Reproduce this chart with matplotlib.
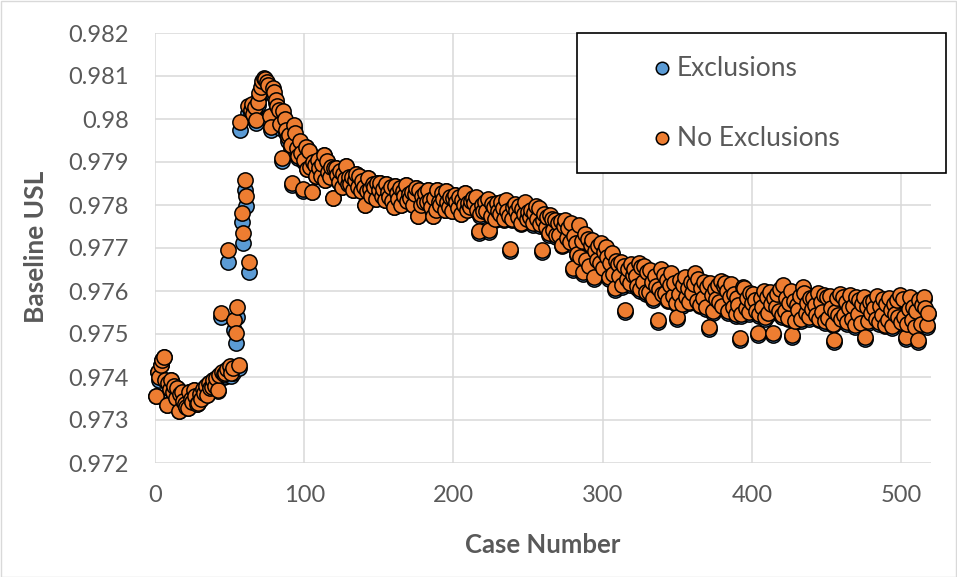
import numpy as np
import matplotlib.pyplot as plt
from matplotlib.patches import Rectangle
from matplotlib.lines import Line2D

# Baseline USL per case (case numbers start at 1)
usl_no_excl = [
    0.97355, 0.97412, 0.97400, 0.97428, 0.97440, 0.97447, 0.97392, 0.97335, 0.97385, 0.97372,
    0.97392, 0.97365, 0.97380, 0.97352, 0.97375, 0.97320, 0.97360, 0.97365, 0.97345, 0.97338,
    0.97330, 0.97328, 0.97365, 0.97350, 0.97342, 0.97370, 0.97355, 0.97338, 0.97340, 0.97360,
    0.97348, 0.97372, 0.97362, 0.97380, 0.97358, 0.97385, 0.97375, 0.97377, 0.97392, 0.97380,
    0.97398, 0.97370, 0.97405, 0.97548, 0.97412, 0.97408, 0.97410, 0.97418, 0.97695, 0.97425,
    0.97410, 0.97420, 0.97533, 0.97502, 0.97563, 0.97428, 0.97992, 0.97782, 0.97735, 0.97858,
    0.97820, 0.98030, 0.97668, 0.98022, 0.98035, 0.98012, 0.98028, 0.97998, 0.98040, 0.98060,
    0.98075, 0.98088, 0.98095, 0.98092, 0.98085, 0.98080, 0.98008, 0.97982, 0.98072, 0.98062,
    0.98045, 0.98030, 0.98020, 0.97988, 0.97910, 0.98018, 0.98000, 0.97975, 0.97958, 0.97962,
    0.97940, 0.97852, 0.97985, 0.97968, 0.97932, 0.97915, 0.97948, 0.97920, 0.97838, 0.97905,
    0.97935, 0.97884, 0.97925, 0.97889, 0.97830, 0.97901, 0.97894, 0.97867, 0.97904, 0.97886,
    0.97868, 0.97896, 0.97916, 0.97858, 0.97902, 0.97876, 0.97864, 0.97888, 0.97816, 0.97886,
    0.97886, 0.97870, 0.97854, 0.97880, 0.97842, 0.97873, 0.97861, 0.97891, 0.97850, 0.97866,
    0.97849, 0.97864, 0.97834, 0.97858, 0.97873, 0.97843, 0.97868, 0.97832, 0.97855, 0.97841,
    0.97800, 0.97832, 0.97862, 0.97837, 0.97822, 0.97849, 0.97842, 0.97815, 0.97852, 0.97834,
    0.97852, 0.97822, 0.97837, 0.97812, 0.97848, 0.97830, 0.97818, 0.97842, 0.97810, 0.97796,
    0.97845, 0.97829, 0.97813, 0.97839, 0.97801, 0.97832, 0.97820, 0.97846, 0.97809, 0.97825,
    0.97816, 0.97831, 0.97801, 0.97825, 0.97840, 0.97775, 0.97835, 0.97799, 0.97822, 0.97808,
    0.97829, 0.97806, 0.97836, 0.97811, 0.97796, 0.97774, 0.97816, 0.97789, 0.97834, 0.97808,
    0.97799, 0.97827, 0.97814, 0.97789, 0.97833, 0.97807, 0.97795, 0.97819, 0.97787, 0.97817,
    0.97824, 0.97808, 0.97792, 0.97818, 0.97780, 0.97811, 0.97799, 0.97829, 0.97788, 0.97804,
    0.97795, 0.97810, 0.97816, 0.97804, 0.97819, 0.97789, 0.97740, 0.97778, 0.97801, 0.97787,
    0.97808, 0.97785, 0.97815, 0.97742, 0.97775, 0.97802, 0.97795, 0.97768, 0.97805, 0.97787,
    0.97778, 0.97806, 0.97793, 0.97768, 0.97812, 0.97786, 0.97774, 0.97698, 0.97768, 0.97796,
    0.97803, 0.97787, 0.97771, 0.97797, 0.97759, 0.97790, 0.97778, 0.97808, 0.97767, 0.97783,
    0.97773, 0.97788, 0.97758, 0.97782, 0.97797, 0.97767, 0.97792, 0.97756, 0.97695, 0.97765,
    0.97780, 0.97750, 0.97772, 0.97735, 0.97777, 0.97768, 0.97742, 0.97765, 0.97730, 0.97758,
    0.97730, 0.97763, 0.97708, 0.97752, 0.97765, 0.97723, 0.97746, 0.97713, 0.97758, 0.97653,
    0.97727, 0.97711, 0.97687, 0.97753, 0.97679, 0.97717, 0.97644, 0.97733, 0.97673, 0.97720,
    0.97658, 0.97708, 0.97719, 0.97633, 0.97694, 0.97672, 0.97704, 0.97664, 0.97712, 0.97654,
    0.97690, 0.97702, 0.97678, 0.97632, 0.97665, 0.97688, 0.97640, 0.97607, 0.97670, 0.97662,
    0.97635, 0.97668, 0.97613, 0.97657, 0.97556, 0.97628, 0.97651, 0.97618, 0.97663, 0.97638,
    0.97652, 0.97636, 0.97612, 0.97664, 0.97604, 0.97656, 0.97620, 0.97658, 0.97598, 0.97645,
    0.97598, 0.97648, 0.97620, 0.97584, 0.97634, 0.97612, 0.97533, 0.97604, 0.97652, 0.97594,
    0.97638, 0.97596, 0.97626, 0.97580, 0.97613, 0.97643, 0.97588, 0.97618, 0.97573, 0.97540,
    0.97592, 0.97625, 0.97570, 0.97614, 0.97632, 0.97585, 0.97608, 0.97575, 0.97620, 0.97595,
    0.97616, 0.97642, 0.97576, 0.97628, 0.97568, 0.97606, 0.97584, 0.97622, 0.97562, 0.97609,
    0.97516, 0.97618, 0.97590, 0.97554, 0.97604, 0.97582, 0.97614, 0.97574, 0.97624, 0.97564,
    0.97612, 0.97619, 0.97600, 0.97554, 0.97587, 0.97617, 0.97562, 0.97592, 0.97547, 0.97584,
    0.97568, 0.97491, 0.97546, 0.97610, 0.97608, 0.97561, 0.97584, 0.97551, 0.97596, 0.97571,
    0.97594, 0.97578, 0.97554, 0.97502, 0.97546, 0.97584, 0.97562, 0.97600, 0.97540, 0.97587,
    0.97548, 0.97598, 0.97570, 0.97502, 0.97584, 0.97562, 0.97594, 0.97554, 0.97604, 0.97544,
    0.97614, 0.97554, 0.97584, 0.97538, 0.97571, 0.97601, 0.97498, 0.97576, 0.97531, 0.97568,
    0.97556, 0.97589, 0.97534, 0.97610, 0.97596, 0.97549, 0.97572, 0.97539, 0.97584, 0.97559,
    0.97584, 0.97568, 0.97544, 0.97596, 0.97536, 0.97574, 0.97552, 0.97590, 0.97530, 0.97586,
    0.97538, 0.97588, 0.97560, 0.97524, 0.97486, 0.97552, 0.97584, 0.97544, 0.97594, 0.97534,
    0.97586, 0.97544, 0.97574, 0.97528, 0.97561, 0.97591, 0.97536, 0.97566, 0.97521, 0.97586,
    0.97547, 0.97580, 0.97525, 0.97569, 0.97587, 0.97493, 0.97563, 0.97530, 0.97575, 0.97550,
    0.97576, 0.97560, 0.97536, 0.97588, 0.97528, 0.97566, 0.97544, 0.97582, 0.97522, 0.97569,
    0.97533, 0.97583, 0.97555, 0.97519, 0.97569, 0.97547, 0.97579, 0.97539, 0.97590, 0.97529,
    0.97582, 0.97540, 0.97493, 0.97524, 0.97557, 0.97587, 0.97532, 0.97562, 0.97517, 0.97554,
    0.97486, 0.97578, 0.97523, 0.97567, 0.97585, 0.97560, 0.97521, 0.97550,
]

usl_excl = [
    0.97355, 0.97412, 0.97392, 0.97428, 0.97440, 0.97447, 0.97392, 0.97335, 0.97385, 0.97372,
    0.97392, 0.97365, 0.97380, 0.97352, 0.97375, 0.97320, 0.97360, 0.97365, 0.97345, 0.97338,
    0.97330, 0.97328, 0.97365, 0.97350, 0.97342, 0.97370, 0.97355, 0.97338, 0.97340, 0.97360,
    0.97348, 0.97372, 0.97362, 0.97380, 0.97358, 0.97385, 0.97375, 0.97377, 0.97392, 0.97380,
    0.97395, 0.97368, 0.97400, 0.97540, 0.97405, 0.97400, 0.97402, 0.97410, 0.97668, 0.97415,
    0.97402, 0.97410, 0.97510, 0.97480, 0.97540, 0.97420, 0.97975, 0.97760, 0.97712, 0.97835,
    0.97798, 0.98015, 0.97645, 0.98014, 0.98027, 0.98003, 0.98020, 0.97990, 0.98032, 0.98052,
    0.98068, 0.98080, 0.98088, 0.98085, 0.98077, 0.98072, 0.97998, 0.97974, 0.98064, 0.98054,
    0.98038, 0.98022, 0.98012, 0.97980, 0.97903, 0.98010, 0.97992, 0.97968, 0.97950, 0.97955,
    0.97933, 0.97846, 0.97978, 0.97961, 0.97926, 0.97909, 0.97942, 0.97914, 0.97833, 0.97900,
    0.97935, 0.97884, 0.97925, 0.97889, 0.97830, 0.97901, 0.97894, 0.97867, 0.97904, 0.97886,
    0.97868, 0.97896, 0.97916, 0.97858, 0.97902, 0.97876, 0.97864, 0.97888, 0.97816, 0.97886,
    0.97886, 0.97870, 0.97854, 0.97880, 0.97842, 0.97873, 0.97861, 0.97891, 0.97850, 0.97866,
    0.97849, 0.97864, 0.97834, 0.97858, 0.97873, 0.97843, 0.97868, 0.97832, 0.97855, 0.97841,
    0.97800, 0.97832, 0.97862, 0.97837, 0.97822, 0.97849, 0.97842, 0.97815, 0.97852, 0.97834,
    0.97852, 0.97822, 0.97837, 0.97812, 0.97848, 0.97830, 0.97818, 0.97842, 0.97810, 0.97796,
    0.97845, 0.97829, 0.97813, 0.97839, 0.97801, 0.97832, 0.97820, 0.97846, 0.97809, 0.97825,
    0.97816, 0.97831, 0.97801, 0.97825, 0.97840, 0.97775, 0.97835, 0.97799, 0.97822, 0.97808,
    0.97829, 0.97806, 0.97836, 0.97811, 0.97796, 0.97774, 0.97816, 0.97789, 0.97834, 0.97808,
    0.97799, 0.97827, 0.97814, 0.97789, 0.97833, 0.97807, 0.97795, 0.97819, 0.97787, 0.97817,
    0.97824, 0.97808, 0.97792, 0.97818, 0.97780, 0.97811, 0.97799, 0.97829, 0.97788, 0.97804,
    0.97791, 0.97806, 0.97812, 0.97800, 0.97815, 0.97785, 0.97736, 0.97774, 0.97797, 0.97783,
    0.97804, 0.97781, 0.97811, 0.97738, 0.97771, 0.97798, 0.97791, 0.97764, 0.97801, 0.97783,
    0.97774, 0.97802, 0.97789, 0.97764, 0.97808, 0.97782, 0.97770, 0.97694, 0.97764, 0.97792,
    0.97799, 0.97783, 0.97767, 0.97793, 0.97755, 0.97786, 0.97774, 0.97804, 0.97763, 0.97779,
    0.97769, 0.97784, 0.97754, 0.97778, 0.97793, 0.97763, 0.97788, 0.97752, 0.97691, 0.97761,
    0.97776, 0.97746, 0.97768, 0.97731, 0.97773, 0.97764, 0.97738, 0.97761, 0.97726, 0.97754,
    0.97726, 0.97759, 0.97704, 0.97748, 0.97761, 0.97719, 0.97742, 0.97709, 0.97754, 0.97649,
    0.97723, 0.97707, 0.97683, 0.97749, 0.97675, 0.97713, 0.97640, 0.97729, 0.97669, 0.97716,
    0.97654, 0.97704, 0.97715, 0.97629, 0.97690, 0.97668, 0.97700, 0.97660, 0.97708, 0.97650,
    0.97686, 0.97698, 0.97674, 0.97628, 0.97661, 0.97684, 0.97636, 0.97603, 0.97666, 0.97658,
    0.97631, 0.97664, 0.97609, 0.97653, 0.97552, 0.97624, 0.97647, 0.97614, 0.97659, 0.97634,
    0.97648, 0.97632, 0.97608, 0.97660, 0.97600, 0.97652, 0.97616, 0.97654, 0.97594, 0.97641,
    0.97594, 0.97644, 0.97616, 0.97580, 0.97630, 0.97608, 0.97529, 0.97600, 0.97648, 0.97590,
    0.97634, 0.97592, 0.97622, 0.97576, 0.97609, 0.97639, 0.97584, 0.97614, 0.97569, 0.97536,
    0.97588, 0.97621, 0.97566, 0.97610, 0.97628, 0.97581, 0.97604, 0.97571, 0.97616, 0.97591,
    0.97612, 0.97638, 0.97572, 0.97624, 0.97564, 0.97602, 0.97580, 0.97618, 0.97558, 0.97605,
    0.97512, 0.97614, 0.97586, 0.97550, 0.97600, 0.97578, 0.97610, 0.97570, 0.97620, 0.97560,
    0.97608, 0.97615, 0.97596, 0.97550, 0.97583, 0.97613, 0.97558, 0.97588, 0.97543, 0.97580,
    0.97564, 0.97487, 0.97542, 0.97606, 0.97604, 0.97557, 0.97580, 0.97547, 0.97592, 0.97567,
    0.97590, 0.97574, 0.97550, 0.97498, 0.97542, 0.97580, 0.97558, 0.97596, 0.97536, 0.97583,
    0.97544, 0.97594, 0.97566, 0.97498, 0.97580, 0.97558, 0.97590, 0.97550, 0.97600, 0.97540,
    0.97610, 0.97550, 0.97580, 0.97534, 0.97567, 0.97597, 0.97494, 0.97572, 0.97527, 0.97564,
    0.97552, 0.97585, 0.97530, 0.97606, 0.97592, 0.97545, 0.97568, 0.97535, 0.97580, 0.97555,
    0.97580, 0.97564, 0.97540, 0.97592, 0.97532, 0.97570, 0.97548, 0.97586, 0.97526, 0.97582,
    0.97534, 0.97584, 0.97556, 0.97520, 0.97482, 0.97548, 0.97580, 0.97540, 0.97590, 0.97530,
    0.97582, 0.97540, 0.97570, 0.97524, 0.97557, 0.97587, 0.97532, 0.97562, 0.97517, 0.97582,
    0.97543, 0.97576, 0.97521, 0.97565, 0.97583, 0.97489, 0.97559, 0.97526, 0.97571, 0.97546,
    0.97572, 0.97556, 0.97532, 0.97584, 0.97524, 0.97562, 0.97540, 0.97578, 0.97518, 0.97565,
    0.97529, 0.97579, 0.97551, 0.97515, 0.97565, 0.97543, 0.97575, 0.97535, 0.97586, 0.97525,
    0.97578, 0.97536, 0.97489, 0.97520, 0.97553, 0.97583, 0.97528, 0.97558, 0.97513, 0.97550,
    0.97482, 0.97574, 0.97519, 0.97563, 0.97581, 0.97556, 0.97517, 0.97546,
]

case_num = np.arange(1, len(usl_no_excl) + 1)

x_ticks = [0, 100, 200, 300, 400, 500]
y_ticks = [0.972, 0.973, 0.974, 0.975, 0.976, 0.977, 0.978, 0.979, 0.980, 0.981, 0.982]
series_names = ["Exclusions", "No Exclusions"]

BLUE = "#5B9BD5"
ORANGE = "#ED7D31"
GREY_TXT = "#595959"
GRID = "#D9D9D9"

plt.rcParams["font.family"] = ["Lato", "DejaVu Sans"]

W, H = 957, 577
fig = plt.figure(figsize=(W / 100, H / 100), dpi=100)
ax = fig.add_axes([155 / W, 1 - 463 / H, (931 - 155) / W, (463 - 33) / H])

marker_kw = dict(ls="none", marker="o", ms=11, mec="black", mew=1.1, clip_on=False)
ax.plot(case_num, usl_excl, mfc=BLUE, zorder=3, **marker_kw)
ax.plot(case_num, usl_no_excl, mfc=ORANGE, zorder=4, **marker_kw)

ax.set_xlim(0, 520)
ax.set_ylim(0.972, 0.982)
ax.set_xticks(x_ticks)
ax.set_yticks(y_ticks)
ax.set_yticklabels([f"{v:g}" for v in y_ticks])
ax.grid(True, color=GRID, lw=1.1)
ax.set_axisbelow(True)
for s in ax.spines.values():
    s.set_visible(False)
ax.tick_params(length=0, labelsize=17, labelcolor=GREY_TXT)
ax.tick_params(axis="y", pad=19)
ax.tick_params(axis="x", pad=16)

fig.text(36 / W, 1 - 247 / H, "Baseline USL", rotation=90, ha="center", va="center",
         fontsize=19, fontweight="bold", color=GREY_TXT)
fig.text(543 / W, 1 - 545 / H, "Case Number", ha="center", va="center",
         fontsize=18.5, fontweight="bold", color=GREY_TXT)

# legend box drawn by hand
fig.add_artist(Rectangle((577 / W, 1 - 173 / H), (946 - 577) / W, 140 / H,
                         transform=fig.transFigure, facecolor="white",
                         edgecolor="black", lw=1.2, zorder=5))
for name, col, yy in zip(series_names, [BLUE, ORANGE], [68, 138]):
    fig.add_artist(Line2D([662 / W], [1 - yy / H], transform=fig.transFigure, ls="none",
                          marker="o", ms=9, mfc=col, mec="black", mew=1.1, zorder=6))
    fig.text(677 / W, 1 - yy / H, name, ha="left", va="center", fontsize=19,
             color=GREY_TXT, zorder=6)

# thin frame round the chart
fig.add_artist(Rectangle((0.5 / W, 0.5 / H), (W - 1.5) / W, (H - 1.5) / H,
                         transform=fig.transFigure, fill=False, edgecolor=GRID, lw=1))

fig.savefig("out.png", dpi=100)
